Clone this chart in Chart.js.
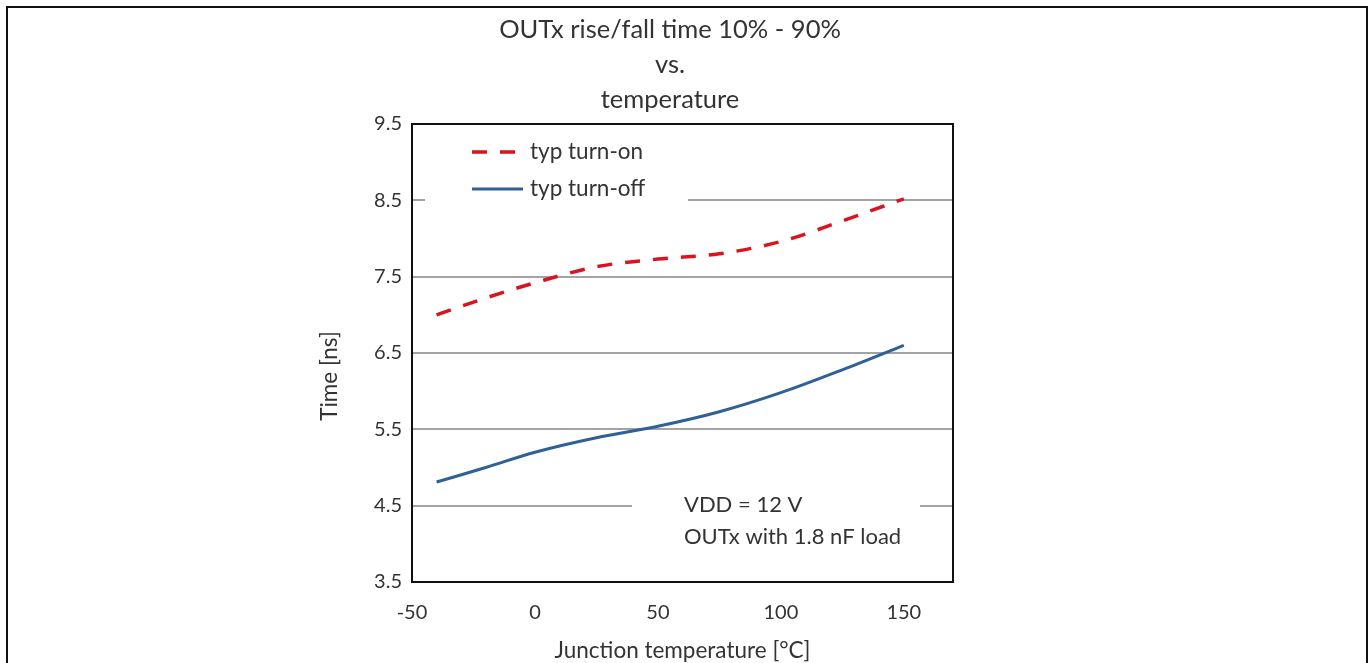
<!DOCTYPE html>
<html>
<head>
<meta charset="utf-8">
<title>OUTx rise/fall time vs. temperature</title>
<script src="https://cdn.jsdelivr.net/npm/chart.js@4.4.1/dist/chart.umd.min.js"></script>
<style>
  html, body { margin: 0; padding: 0; background: #fff; overflow: hidden; }
  .frame {
    position: absolute; left: 6px; top: 6px;
    width: 1362px; height: 720px;
    box-sizing: border-box; border: 2px solid #111;
  }
  #riseFallChart { position: absolute; left: 0; top: 0; }
</style>
</head>
<body>
<div class="frame"></div>
<canvas id="riseFallChart" width="1368" height="663"></canvas>
<script>
// Junction temperature in °C and the typical 10%-90% switching times in ns
const temperatures = [-40, -20, 0, 25, 50, 75, 100, 125, 150];
const turnOnTime = [7.00, 7.22, 7.42, 7.63, 7.73, 7.80, 7.96, 8.23, 8.52];
const turnOffTime = [4.81, 5.00, 5.20, 5.39, 5.54, 5.73, 5.98, 6.28, 6.60];

const xTicks = [-50, 0, 50, 100, 150];
const yTicks = [3.5, 4.5, 5.5, 6.5, 7.5, 8.5, 9.5];

const titleLines = ['OUTx rise/fall time 10% - 90%', 'vs.', 'temperature'];
const noteLines = ['VDD = 12 V', 'OUTx with 1.8 nF load'];

const FONT = 'Lato, "Noto Sans", sans-serif';
const TEXT = '#333333';

function toPoints(values) {
    return temperatures.map((t, i) => ({ x: t, y: values[i] }));
}

// title, legend, condition note, axis caption and plot frame
const panelNotes = {
    id: 'panelNotes',
    afterDatasetsDraw(chart) {
        const { ctx, chartArea: area } = chart;
        ctx.save();

        // white panels that interrupt the grid lines
        ctx.fillStyle = '#fff';
        ctx.fillRect(area.left + 13, area.top + 6, 263, 84);
        ctx.fillRect(area.left + 220, area.bottom - 94, 288, 68);

        ctx.fillStyle = TEXT;
        ctx.textBaseline = 'middle';

        ctx.textAlign = 'center';
        ctx.font = '25.5px ' + FONT;
        titleLines.forEach((line, i) => {
            ctx.fillText(line, area.left + 258, area.top - 94 + i * 35);
        });

        ctx.textAlign = 'left';
        ctx.font = '22.5px ' + FONT;
        chart.data.datasets.forEach((ds, i) => {
            const y = area.top + 28 + i * 37;
            const x0 = area.left + 60;
            ctx.save();
            ctx.strokeStyle = ds.borderColor;
            ctx.lineWidth = ds.borderWidth;
            ctx.setLineDash(ds.borderDash || []);
            ctx.beginPath();
            ctx.moveTo(x0, y);
            ctx.lineTo(x0 + 51, y);
            ctx.stroke();
            ctx.restore();
            ctx.fillText(ds.label, x0 + 58, y);
        });

        ctx.font = '22px ' + FONT;
        noteLines.forEach((line, i) => {
            ctx.fillText(line, area.left + 272, area.bottom - 77 + i * 32);
        });

        // y axis caption
        ctx.save();
        ctx.translate(area.left - 82, (area.top + area.bottom) / 2 + 23);
        ctx.rotate(-Math.PI / 2);
        ctx.textAlign = 'center';
        ctx.font = '22.5px ' + FONT;
        ctx.fillText('Time [ns]', 0, 0);
        ctx.restore();

        // plot frame
        ctx.strokeStyle = '#111';
        ctx.lineWidth = 2;
        ctx.strokeRect(area.left, area.top, area.right - area.left, area.bottom - area.top);
        ctx.restore();
    }
};

const ctx = document.getElementById('riseFallChart').getContext('2d');

new Chart(ctx, {
    type: 'line',
    data: {
        datasets: [{
            label: 'typ turn-on',
            data: toPoints(turnOnTime),
            borderColor: '#d9141f',
            borderWidth: 3.5,
            borderDash: [15, 13],
            pointRadius: 0,
            cubicInterpolationMode: 'monotone',
            fill: false
        }, {
            label: 'typ turn-off',
            data: toPoints(turnOffTime),
            borderColor: '#2f6096',
            borderWidth: 3,
            pointRadius: 0,
            cubicInterpolationMode: 'monotone',
            fill: false
        }]
    },
    options: {
        responsive: false,
        animation: false,
        devicePixelRatio: 1,
        layout: { padding: { left: 0, right: 415, top: 124, bottom: 0 } },
        plugins: {
            legend: { display: false },
            tooltip: { enabled: false },
            title: { display: false }
        },
        scales: {
            x: {
                type: 'linear',
                min: -50,
                max: 170,
                afterBuildTicks: scale => { scale.ticks = xTicks.map(v => ({ value: v })); },
                afterFit: scale => { scale.height = 81; },
                grid: { display: false, drawTicks: false },
                border: { display: false },
                ticks: { color: TEXT, font: { family: FONT, size: 20 }, padding: 19 },
                title: {
                    display: true,
                    text: 'Junction temperature [°C]',
                    color: TEXT,
                    font: { family: FONT, size: 22.5 },
                    padding: { top: 0, bottom: -1 }
                }
            },
            y: {
                min: 3.5,
                max: 9.5,
                afterBuildTicks: scale => { scale.ticks = yTicks.map(v => ({ value: v })); },
                afterFit: scale => { scale.width = 412; },
                grid: { color: '#a3a3a3', lineWidth: 2, drawTicks: false },
                border: { display: false },
                ticks: { color: TEXT, font: { family: FONT, size: 20 }, padding: 10 }
            }
        }
    },
    plugins: [panelNotes]
});
</script>
</body>
</html>
